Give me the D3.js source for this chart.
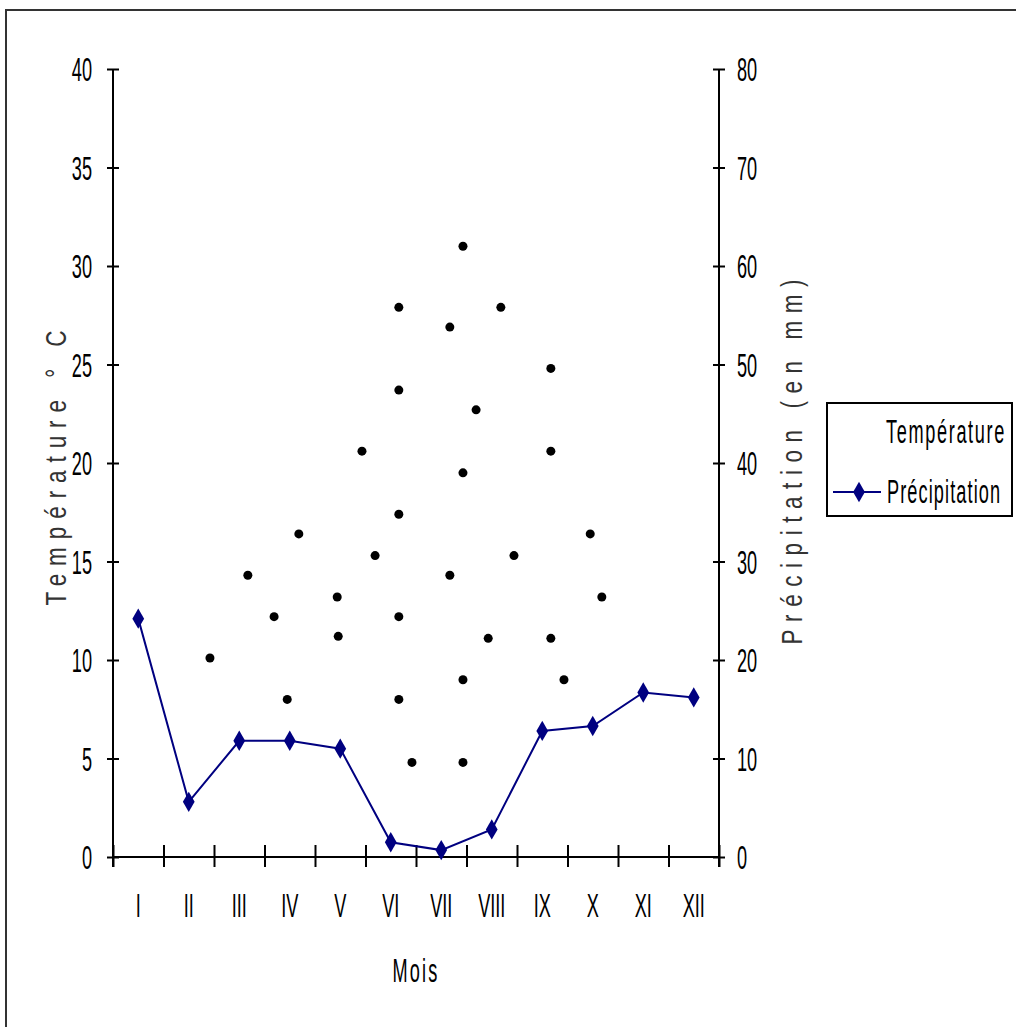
<!DOCTYPE html>
<html>
  <head>
    <meta charset="UTF-8">
    <script src="https://d3js.org/d3.v7.min.js"></script>
    <style>
      body{ margin:0; background:#fff; }
      text{ font-family: "Liberation Sans", Arial, sans-serif; fill:#000; }
      .domain, .tick line{ stroke:#000; stroke-width:2; }
    </style>
    <title>Diagramme ombrothermique</title>
  </head>
  <body>
    <svg id="chart" width="1016" height="1027"></svg>

    <script>
      // data
      const months = ["I","II","III","IV","V","VI","VII","VIII","IX","X","XI","XII"];
      const precipitation = [24.2, 5.6, 11.8, 11.8, 11.0, 1.5, 0.7, 2.8, 12.8, 13.3, 16.7, 16.2];
      // temperature dots: position along the month axis (0 = left edge, 12 = right edge), value in °C
      const dotPos  = [6.93, 5.66, 7.68, 6.67, 8.67, 5.66, 7.19, 4.93, 8.67, 6.93, 5.66, 3.68, 9.45, 5.19, 7.94,
                       2.67, 6.67, 4.44, 9.68, 3.19, 5.66, 1.92, 4.46, 7.43, 8.67, 6.93, 8.93, 3.45, 5.66, 5.92, 6.93];
      const dotTemp = [31.0, 27.9, 27.9, 26.9, 24.8, 23.7, 22.7, 20.6, 20.6, 19.5, 17.4, 16.4, 16.4, 15.3, 15.3,
                       14.3, 14.3, 13.2, 13.2, 12.2, 12.2, 10.1, 11.2, 11.1, 11.1, 9.0, 9.0, 8.0, 8.0, 4.8, 4.8];
      const tempTicks = [0, 5, 10, 15, 20, 25, 30, 35, 40];
      const precipTicks = [0, 10, 20, 30, 40, 50, 60, 70, 80];

      const svg = d3.select("svg#chart");
      const plotLeft = 113, plotRight = 719, plotTop = 69, plotBottom = 857;
      const SX = 0.55;

      // outer frame (runs off the right and bottom edges)
      svg.append("rect")
         .attr("x", 6).attr("y", 10).attr("width", 1100).attr("height", 1100)
         .attr("fill", "none").attr("stroke", "#333").attr("stroke-width", 2);

      const xBand = d3.scaleBand().domain(months).range([plotLeft, plotRight]);
      const xLin = d3.scaleLinear().domain([0, 12]).range([plotLeft, plotRight]);
      const yT = d3.scaleLinear().domain([0, 40]).range([plotBottom, plotTop]);
      const yP = d3.scaleLinear().domain([0, 80]).range([plotBottom, plotTop]);

      function squash(sel, dx, dy){
        sel.attr("x", 0).attr("y", 0)
           .attr("font-size", 33)
           .attr("transform", `translate(${dx},${dy}) scale(${SX},1)`);
      }

      // left axis
      let leftAxis = svg.append("g")
         .attr("transform", "translate(" + plotLeft + ",0)")
         .call(d3.axisLeft(yT).tickValues(tempTicks).tickSize(6));
      leftAxis.selectAll(".tick line").attr("x1", 6);
      leftAxis.selectAll(".tick text").attr("dy", "0.36em").call(squash, -21, 0);
      leftAxis.select(".domain").attr("d", `M0,${plotTop}V${plotBottom + 10}`);

      // right axis
      let rightAxis = svg.append("g")
         .attr("transform", "translate(" + plotRight + ",0)")
         .call(d3.axisRight(yP).tickValues(precipTicks).tickSize(6));
      rightAxis.selectAll(".tick line").attr("x1", -6);
      rightAxis.selectAll(".tick text").attr("dy", "0.36em").call(squash, 18, 0);
      rightAxis.select(".domain").attr("d", `M0,${plotTop}V${plotBottom + 10}`);

      // bottom axis: ticks at month boundaries
      let bottomAxis = svg.append("g")
         .attr("transform", "translate(0," + plotBottom + ")")
         .call(d3.axisBottom(xLin).tickValues(d3.range(0, 13)).tickFormat("").tickSize(10));
      bottomAxis.selectAll(".tick line").attr("y1", -12);
      bottomAxis.select(".domain").attr("d", `M${plotLeft},0H${plotRight}`);

      // month labels
      let monthAxis = svg.append("g")
         .attr("transform", "translate(0," + plotBottom + ")")
         .call(d3.axisBottom(xBand).tickSize(0));
      monthAxis.select(".domain").remove();
      monthAxis.selectAll(".tick text").attr("dy", 0).attr("text-anchor", "middle")
         .call(squash, 0, 60);

      // temperature dots
      svg.append("g").selectAll("circle")
         .data(dotPos.map((p, i) => [p, dotTemp[i]]))
         .join("circle")
         .attr("cx", d => xLin(d[0]))
         .attr("cy", d => yT(d[1]))
         .attr("r", 4.5)
         .attr("fill", "#000");

      // precipitation line
      const line = d3.line()
         .x((d, i) => xBand(months[i]) + xBand.bandwidth() / 2)
         .y(d => yP(d));
      svg.append("path")
         .datum(precipitation)
         .attr("d", line)
         .attr("fill", "none")
         .attr("stroke", "#000080")
         .attr("stroke-width", 2);

      const diamond = d3.symbol().type(d3.symbolDiamond).size(120);
      svg.append("g").selectAll("path")
         .data(precipitation)
         .join("path")
         .attr("d", diamond)
         .attr("transform", (d, i) => `translate(${xBand(months[i]) + xBand.bandwidth() / 2},${yP(d)})`)
         .attr("fill", "#000080");

      // axis titles
      svg.append("text")
         .attr("transform", "translate(66,468) rotate(-90) scale(0.75,1)")
         .attr("text-anchor", "middle")
         .attr("font-size", 30)
         .attr("textLength", 275 / 0.75)
         .attr("lengthAdjust", "spacing")
         .style("fill", "#333")
         .text("Température ° C");

      svg.append("text")
         .attr("transform", "translate(802,462) rotate(-90) scale(0.75,1)")
         .attr("text-anchor", "middle")
         .attr("font-size", 30)
         .attr("textLength", 365 / 0.75)
         .attr("lengthAdjust", "spacing")
         .style("fill", "#333")
         .text("Précipitation (en mm)");

      svg.append("text")
         .attr("text-anchor", "middle")
         .attr("letter-spacing", 4)
         .call(squash, 416, 982)
         .text("Mois");

      // legend
      let legend = svg.append("g");
      legend.append("rect")
            .attr("x", 827).attr("y", 403).attr("width", 185).attr("height", 113)
            .attr("fill", "#fff").attr("stroke", "#000").attr("stroke-width", 2);
      legend.append("text")
            .attr("text-anchor", "end")
            .attr("letter-spacing", 3)
            .call(squash, 1006, 443)
            .text("Température");
      legend.append("line")
            .attr("x1", 833).attr("x2", 881).attr("y1", 492).attr("y2", 492)
            .attr("stroke", "#000080").attr("stroke-width", 2);
      legend.append("path")
            .attr("d", diamond)
            .attr("transform", "translate(859,492)")
            .attr("fill", "#000080");
      legend.append("text")
            .attr("letter-spacing", 2)
            .call(squash, 887, 503)
            .text("Précipitation");
    </script>
  </body>
</html>
